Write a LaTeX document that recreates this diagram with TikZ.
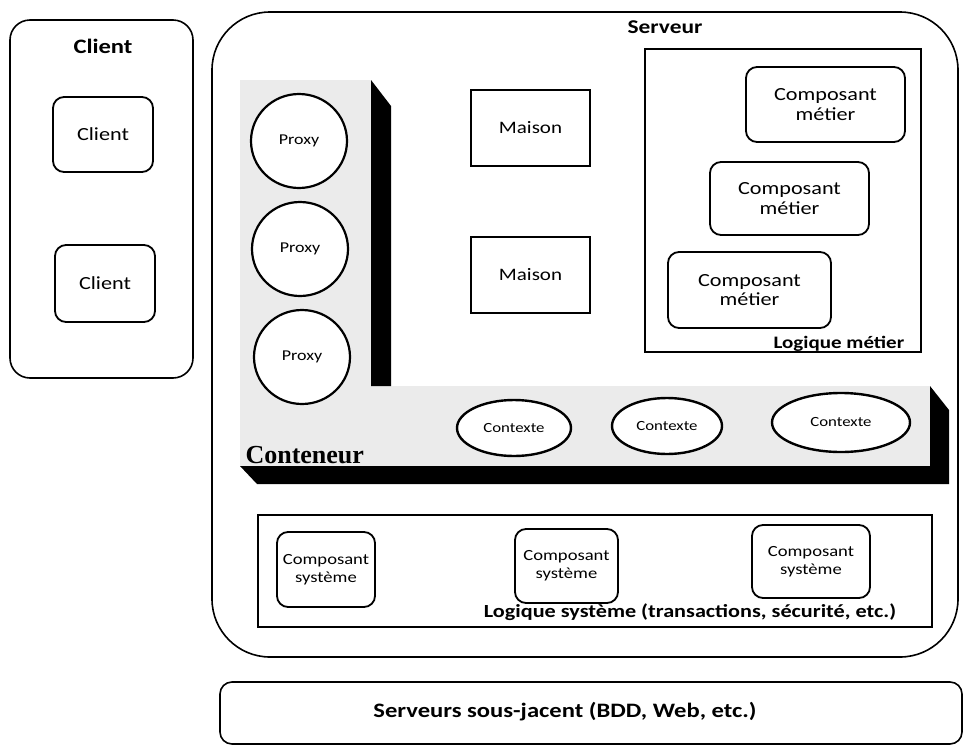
\documentclass[tikz,border=0pt]{standalone}
\usepackage{fontspec}
\setmainfont{Carlito}[FakeStretch=1.2]
\newfontfamily\conteneurfont{Liberation Serif}
\usetikzlibrary{shapes.geometric}

\tikzset{
  outerbox/.style={draw, line width=1.6pt, inner sep=0pt},
  frame/.style={draw, line width=1.6pt, inner sep=0pt},
  compbox/.style={draw, line width=1.8pt, rounded corners=11pt, align=center,
    inner sep=0pt, fill=white},
  bigtext/.style={font=\fontsize{18.5}{19.5}\selectfont},
  smalltext/.style={font=\fontsize{15.5}{18}\selectfont},
  plainbox/.style={draw, line width=1.6pt, inner sep=0pt, fill=white,
    font=\fontsize{17.5}{19}\selectfont},
  proxy/.style={draw, ellipse, line width=2.2pt, minimum width=96pt,
    minimum height=94pt, inner sep=0pt, fill=white,
    font=\fontsize{15}{17}\selectfont},
  ctx/.style={draw, ellipse, line width=2.4pt, inner sep=0pt, fill=white,
    font=\fontsize{14}{15}\selectfont},
  title/.style={font=\fontsize{20.5}{22}\selectfont\bfseries},
  caption/.style={font=\fontsize{17.5}{19}\selectfont\bfseries},
}

\begin{document}
\begin{tikzpicture}[x=1pt, y=-1pt]
\useasboundingbox (0,0) rectangle (964,750);

% ---------- client side ----------
\node[outerbox, rounded corners=20pt, minimum width=183pt, minimum height=358pt]
  (clientzone) at (101.5,199) {};
\node[title] (clienttitle) at (103,46) {Client};
\node[compbox, bigtext, minimum width=100pt, minimum height=75pt] (client1) at (103,134.5) {Client};
\node[compbox, bigtext, minimum width=100pt, minimum height=77pt] (client2) at (105,283.5) {Client};

% ---------- server ----------
\node[outerbox, rounded corners=58pt, minimum width=746pt, minimum height=645pt]
  (serveur) at (585,334.5) {};
\node[title, font=\fontsize{19.5}{22}\selectfont\bfseries] (serveurtitle) at (665,27) {Serveur};

% container plate (L-shaped) and its extruded black edge
\path[fill=black!8] (240,80) -- (371,80) -- (371,386) -- (930,386) -- (930,466)
  -- (240,466) -- cycle;
\fill[black] (371,80) -- (391,106) -- (391,386) -- (371,386) -- cycle;
\fill[black] (930,386) -- (949,410) -- (949,484) -- (257,484) -- (240,466)
  -- (930,466) -- cycle;
\node[font=\conteneurfont\fontsize{26}{28}\selectfont\bfseries, anchor=base west]
  (conteneur) at (242,463) {Conteneur};

% proxies
\node[proxy] (proxy1) at (299,141) {Proxy};
\node[proxy] (proxy2) at (300,249) {Proxy};
\node[proxy] (proxy3) at (302,357) {Proxy};

% homes
\node[plainbox, minimum width=119pt, minimum height=76pt] (maison1) at (530.5,128) {Maison};
\node[plainbox, minimum width=119pt, minimum height=76pt] (maison2) at (530.5,275) {Maison};

% business logic
\node[frame, minimum width=276pt, minimum height=303pt] (metier) at (783,200.5) {};
\node[caption, anchor=south east] (metierlabel) at ([xshift=-14pt,yshift=-2pt]metier.south east) {Logique métier};
\node[compbox, bigtext, minimum width=159pt, minimum height=75pt] (cm1) at (825.5,104.5) {Composant\\métier};
\node[compbox, bigtext, minimum width=159pt, minimum height=73pt] (cm2) at (789.5,198.5) {Composant\\métier};
\node[compbox, bigtext, minimum width=163pt, minimum height=76pt] (cm3) at (749.5,290) {Composant\\métier};

% contexts
\node[ctx, minimum width=114pt, minimum height=56pt] (ctx1) at (514,428) {Contexte};
\node[ctx, minimum width=110pt, minimum height=56pt] (ctx2) at (667,426) {Contexte};
\node[ctx, minimum width=138pt, minimum height=59pt] (ctx3) at (841,422.5) {Contexte};

% system logic
\node[frame, minimum width=674pt, minimum height=112pt] (systeme) at (595,571) {};
\node[caption, font=\fontsize{18.5}{20}\selectfont\bfseries] (systemelabel) at (690,612)
  {Logique système (transactions, sécurité, etc.)};
\node[compbox, smalltext, minimum width=98pt, minimum height=75pt] (cs1) at (326,569.5) {Composant\\système};
\node[compbox, smalltext, minimum width=103pt, minimum height=74pt] (cs2) at (566.5,566) {Composant\\système};
\node[compbox, smalltext, minimum width=118pt, minimum height=73pt] (cs3) at (811,561.5) {Composant\\système};

% underlying servers
\node[outerbox, rounded corners=12pt, minimum width=742pt, minimum height=62pt]
  (sousjacent) at (591,713) {};
\node[font=\fontsize{20.5}{22}\selectfont\bfseries] (sousjacentlabel) at (565,712)
  {Serveurs sous-jacent (BDD, Web, etc.)};
\end{tikzpicture}
\end{document}
